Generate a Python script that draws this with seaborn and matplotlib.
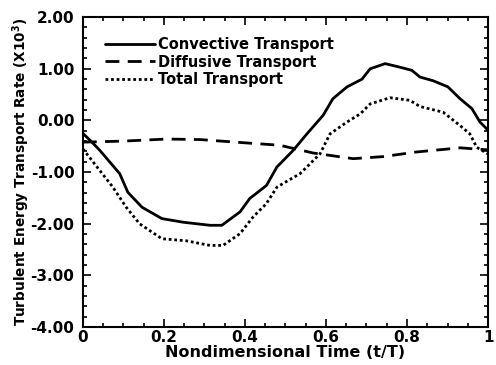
import numpy as np
import pandas as pd
import matplotlib
matplotlib.use("Agg")
import matplotlib.pyplot as plt
import seaborn as sns
from matplotlib.ticker import MultipleLocator, FixedLocator

sns.set_theme(style="ticks")
plt.rcParams['font.family'] = ['DejaVu Sans']
plt.rcParams['font.weight'] = 'bold'
plt.rcParams['mathtext.default'] = 'bf'
plt.rcParams['text.color'] = 'black'
plt.rcParams['axes.labelcolor'] = 'black'
plt.rcParams['xtick.color'] = 'black'
plt.rcParams['ytick.color'] = 'black'

conv_t = [0.0, 0.02, 0.042, 0.091, 0.111, 0.146, 0.195, 0.247, 0.314, 0.343, 0.388, 0.412,
          0.453, 0.479, 0.519, 0.553, 0.593, 0.617, 0.652, 0.689, 0.709, 0.746, 0.783,
          0.812, 0.832, 0.864, 0.901, 0.931, 0.96, 0.98, 1.0]
conv_v = [-0.25, -0.4, -0.58, -1.03, -1.39, -1.68, -1.9, -1.97, -2.03, -2.03, -1.77, -1.51,
          -1.26, -0.9, -0.58, -0.26, 0.1, 0.42, 0.65, 0.8, 1.0, 1.1, 1.03,
          0.97, 0.84, 0.77, 0.65, 0.42, 0.23, -0.03, -0.19]

diff_t = [0.0, 0.1, 0.207, 0.289, 0.412, 0.486, 0.568, 0.667, 0.741, 0.824, 0.931, 1.0]
diff_v = [-0.42, -0.4, -0.36, -0.37, -0.44, -0.48, -0.63, -0.74, -0.7, -0.61, -0.53, -0.57]

tot_t = [0.0, 0.042, 0.074, 0.107, 0.14, 0.195, 0.255, 0.314, 0.346, 0.388, 0.42, 0.453,
         0.479, 0.536, 0.585, 0.61, 0.652, 0.685, 0.709, 0.758, 0.807, 0.832, 0.889,
         0.931, 0.955, 0.972, 1.0]
tot_v = [-0.55, -0.97, -1.29, -1.68, -2.0, -2.29, -2.33, -2.42, -2.42, -2.19, -1.87, -1.61,
         -1.29, -1.03, -0.65, -0.26, -0.03, 0.13, 0.32, 0.44, 0.39, 0.27, 0.16,
         -0.1, -0.26, -0.52, -0.65]

labels = ["Convective Transport", "Diffusive Transport", "Total Transport"]
xticks = [0, 0.2, 0.4, 0.6, 0.8, 1]
xticklabels = ["0", "0.2", "0.4", "0.6", "0.8", "1"]
yticks = [-4, -3, -2, -1, 0, 1, 2]
yticklabels = ["-4.00", "-3.00", "-2.00", "-1.00", "0.00", "1.00", "2.00"]

fig = plt.figure(figsize=(4.96, 3.65), dpi=100)
ax = fig.add_axes([0.167, 0.104, 0.817, 0.849])

styles = [dict(linestyle='-', linewidth=2.0),
          dict(linestyle=(0, (5, 3)), linewidth=2.0),
          dict(linestyle=(0, (1, 1)), linewidth=2.0)]
for t, v, lab, st in zip([conv_t, diff_t, tot_t], [conv_v, diff_v, tot_v], labels, styles):
    df = pd.DataFrame({"t": t, "v": v})
    sns.lineplot(data=df, x="t", y="v", ax=ax, color="black", label=lab, **st)

ax.set_xlim(0, 1)
ax.set_ylim(-4, 2)
ax.xaxis.set_major_locator(FixedLocator(xticks))
ax.set_xticklabels(xticklabels, fontsize=11, fontweight='bold')
ax.yaxis.set_major_locator(FixedLocator(yticks))
ax.set_yticklabels(yticklabels, fontsize=11, fontweight='bold')
ax.xaxis.set_minor_locator(MultipleLocator(0.05))
ax.yaxis.set_minor_locator(MultipleLocator(0.2))
ax.tick_params(which='both', direction='in', top=True, right=True, color='black', width=1.2)
ax.tick_params(which='major', length=6)
ax.tick_params(axis='x', which='major', pad=2)
ax.tick_params(axis='y', which='major', pad=6)
ax.tick_params(which='minor', length=3)
for s in ax.spines.values():
    s.set_color('black')
    s.set_linewidth(1.5)

ax.set_xlabel("Nondimensional Time (t/T)", fontsize=11.5, fontweight='bold', labelpad=0)
ax.set_ylabel("Turbulent Energy Transport Rate (X10$^3$)", fontsize=9.8, fontweight='bold', labelpad=-1)

leg = ax.legend(loc='upper left', frameon=False, handlelength=3.4, handletextpad=0.2,
                labelspacing=0.2, prop={'weight': 'bold', 'size': 10.5},
                bbox_to_anchor=(0.03, 0.97), borderaxespad=0.3)

fig.savefig("out.png", dpi=100)
